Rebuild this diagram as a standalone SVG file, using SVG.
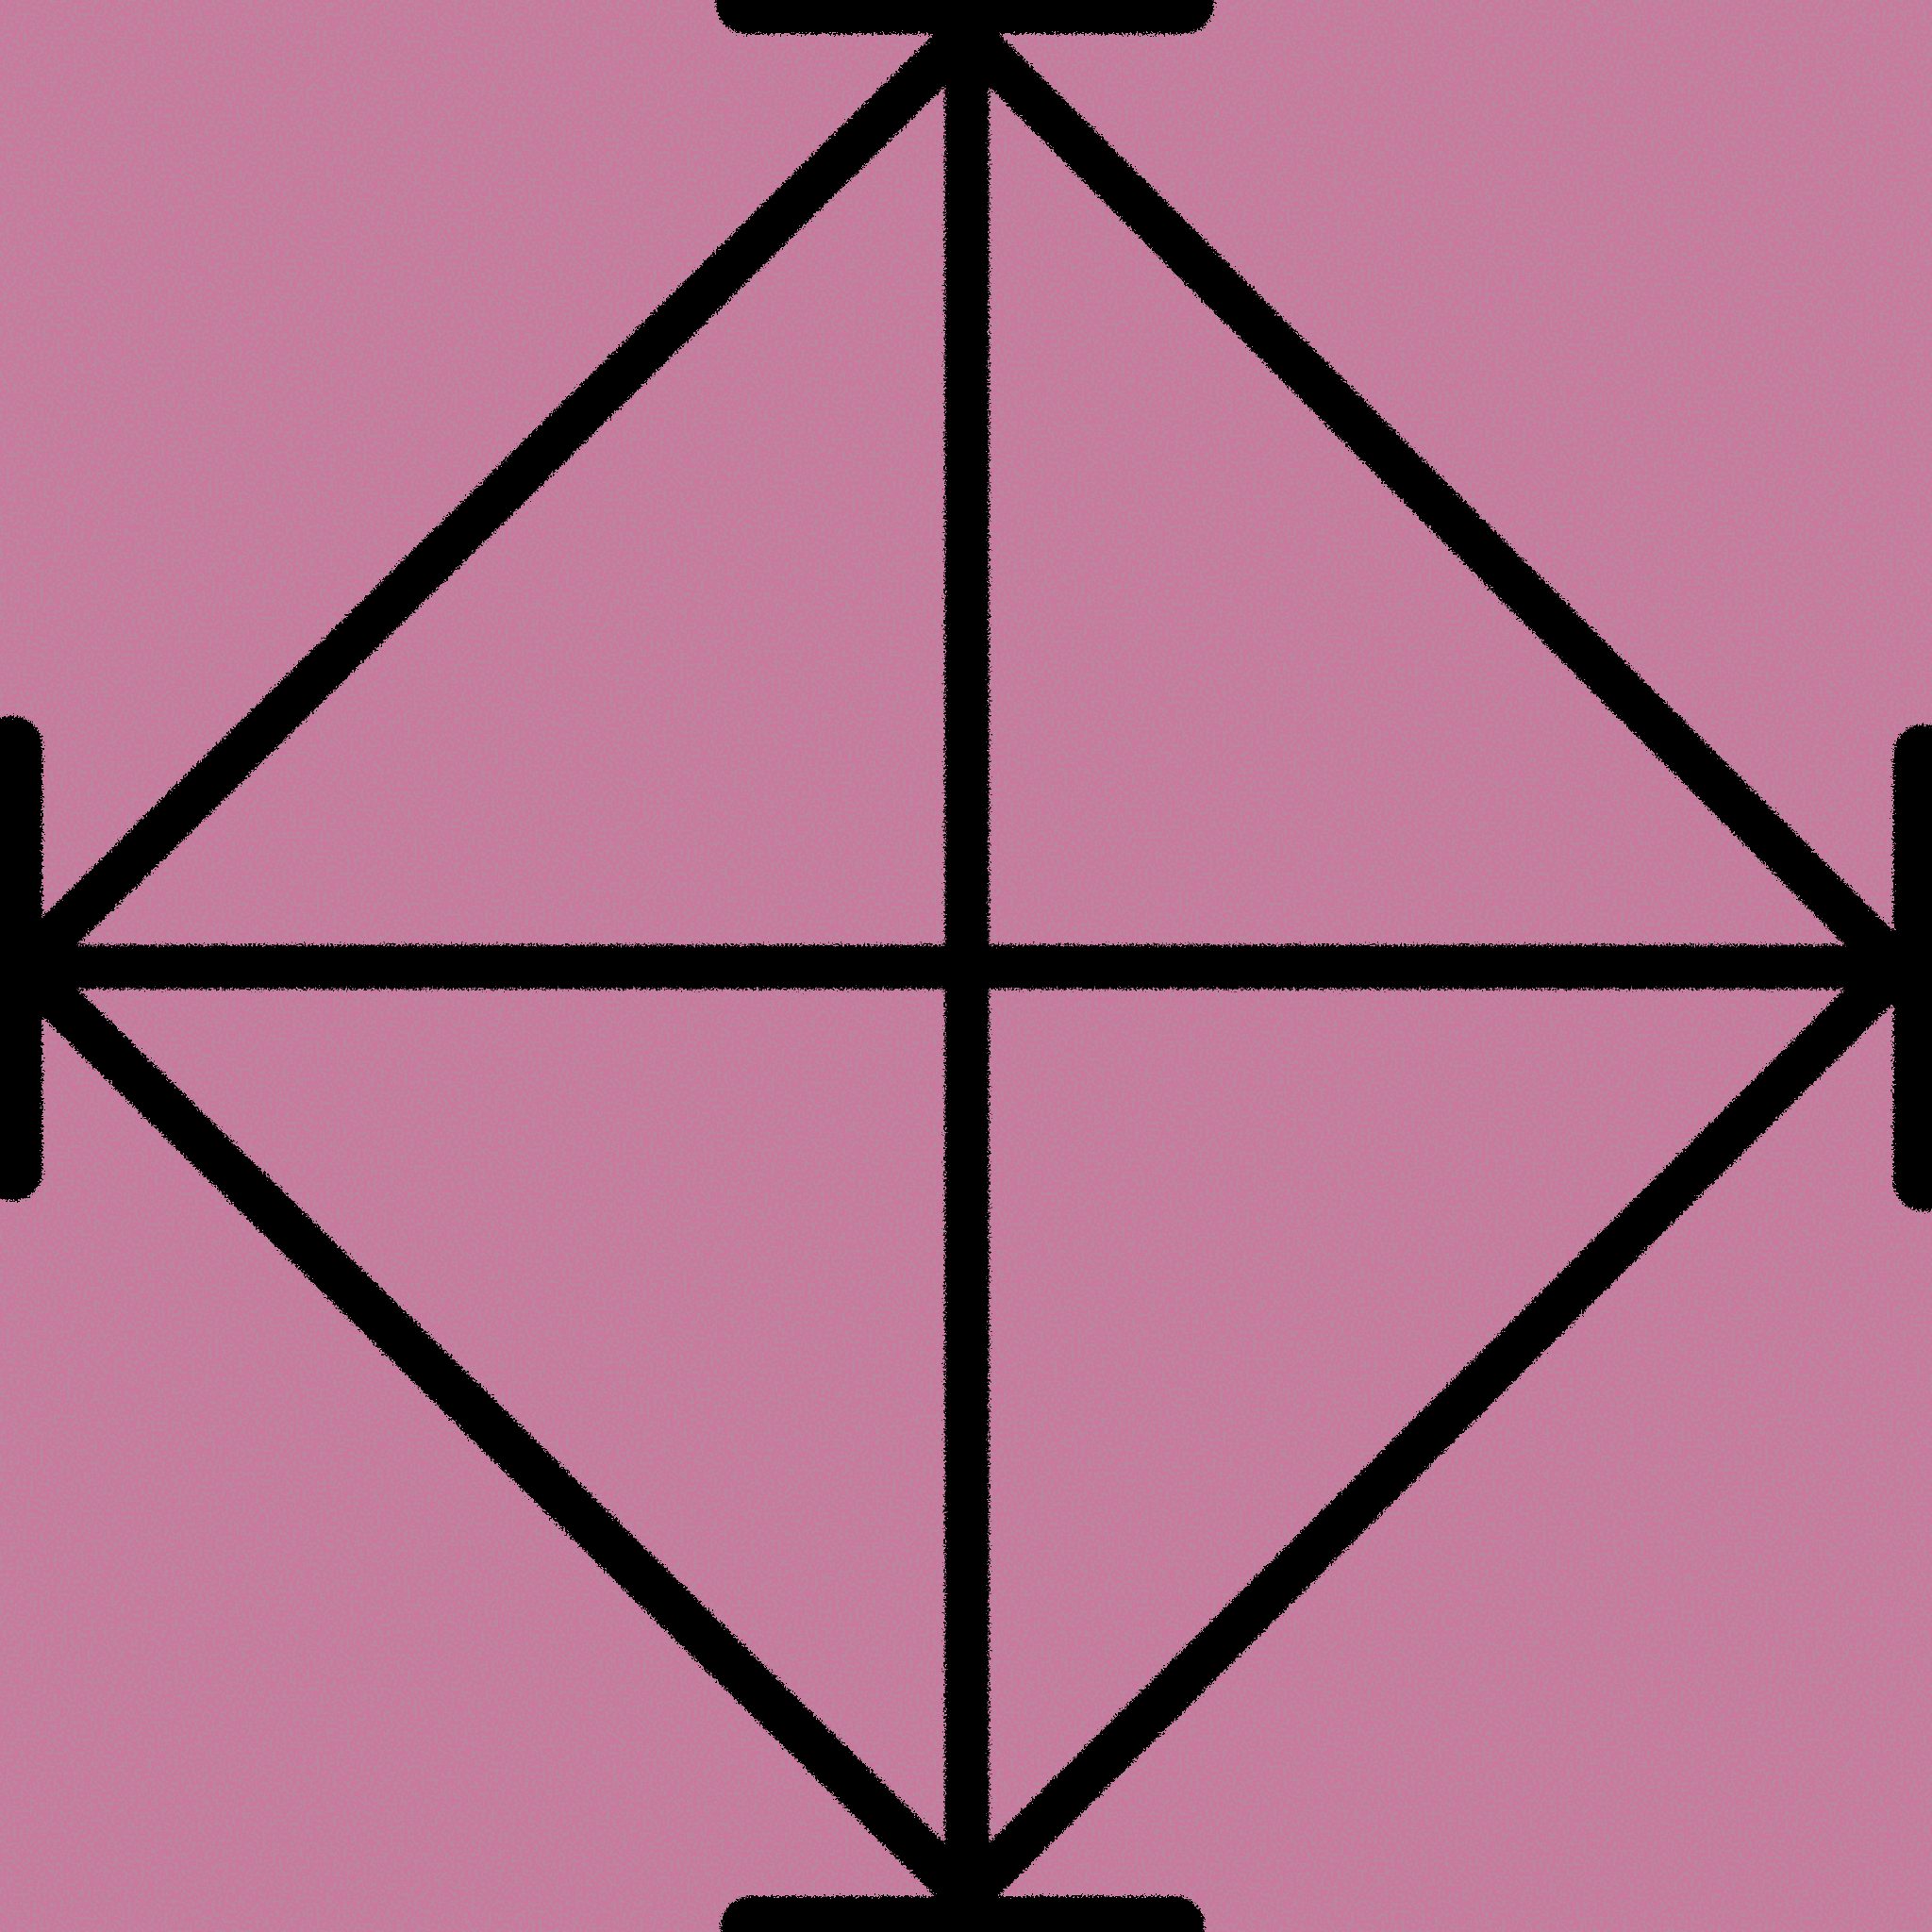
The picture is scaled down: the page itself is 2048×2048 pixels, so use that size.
<svg xmlns="http://www.w3.org/2000/svg" width="2048" height="2048" viewBox="0 0 2048 2048">
<style>
.ln{stroke:#000;stroke-width:47;stroke-linecap:round;fill:none}
.bar{stroke:#000;stroke-width:64;stroke-linecap:round;fill:none}
</style>
<defs>
<filter id="grain" x="0" y="0" width="100%" height="100%">
<feTurbulence type="fractalNoise" baseFrequency="0.28" numOctaves="2" seed="3" result="n"/>
<feColorMatrix in="n" type="matrix" values="0 0 0 0 0.45  0 0 0 0 0.28  0 0 0 0 0.36  -7 0 0 0 3.7"/>
</filter>
<filter id="rough" x="-5%" y="-5%" width="110%" height="110%">
<feTurbulence type="fractalNoise" baseFrequency="0.45" numOctaves="2" seed="7" result="t"/>
<feDisplacementMap in="SourceGraphic" in2="t" scale="11" xChannelSelector="R" yChannelSelector="G"/>
</filter>
</defs>
<rect width="2048" height="2048" fill="#CA789E"/>
<rect width="2048" height="2048" filter="url(#grain)" opacity="0.7"/>
<g id="connectors" filter="url(#rough)">
<line class="ln" x1="1025" y1="35" x2="1025" y2="2010"/>
<line class="ln" x1="25" y1="1025" x2="2012" y2="1025"/>
<line class="ln" x1="1025" y1="35" x2="25" y2="1025"/>
<line class="ln" x1="1025" y1="35" x2="2012" y2="1025"/>
<line class="ln" x1="25" y1="1025" x2="1025" y2="2010"/>
<line class="ln" x1="2012" y1="1025" x2="1025" y2="2010"/>
</g>
<g filter="url(#rough)">
<g id="node-top"><line class="bar" x1="791" y1="4" x2="1255" y2="4"/></g>
<g id="node-left"><line class="bar" x1="13" y1="791" x2="13" y2="1241"/></g>
<g id="node-right"><line class="bar" x1="2039" y1="800" x2="2039" y2="1252"/></g>
<g id="node-bottom"><line class="bar" x1="796" y1="2042" x2="1245" y2="2042"/></g>
</g>
</svg>
